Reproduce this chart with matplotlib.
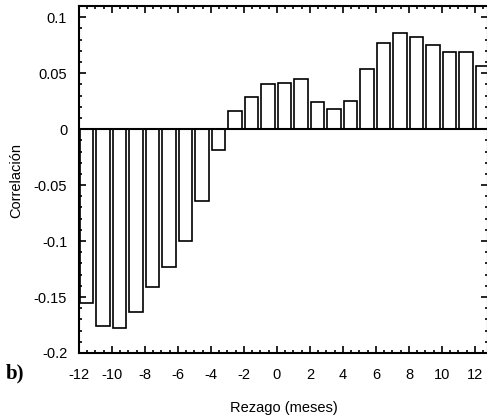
import matplotlib
matplotlib.use('Agg')
import matplotlib.pyplot as plt
from matplotlib.ticker import MultipleLocator

rezago = list(range(-12, 13))
correlacion = [-0.155, -0.176, -0.178, -0.163, -0.141, -0.123, -0.100, -0.064, -0.019,
               0.016, 0.029, 0.040, 0.041, 0.045, 0.024, 0.018, 0.025, 0.054,
               0.077, 0.086, 0.082, 0.075, 0.069, 0.069, 0.056]

plt.rcParams['font.family'] = ['Liberation Sans', 'DejaVu Sans']
plt.rcParams['axes.unicode_minus'] = False

fig = plt.figure(figsize=(4.87, 4.20), dpi=100)
ax = fig.add_axes([79 / 487, 67 / 420, 409 / 487, 347 / 420])

ax.bar([r + 0.05 for r in rezago], correlacion, width=0.82, align='edge',
       color='white', edgecolor='black', linewidth=1.2)
ax.axhline(0, color='black', linewidth=1.5, zorder=3)

ax.set_xlim(-12, 12.79)
ax.set_ylim(-0.2, 0.11)
ax.xaxis.set_major_locator(MultipleLocator(2))
ax.xaxis.set_minor_locator(MultipleLocator(0.5))
ax.yaxis.set_minor_locator(MultipleLocator(0.01))
ax.set_yticks([-0.2, -0.15, -0.1, -0.05, 0, 0.05, 0.1])
ax.set_yticklabels(['-0.2', '-0.15', '-0.1', '-0.05', '0', '0.05', '0.1'])
ax.tick_params(which='both', direction='in', top=True, right=True, labelsize=10.5, width=1.2)
ax.tick_params(which='major', length=5)
ax.tick_params(which='minor', length=2.5)
ax.tick_params(axis='x', pad=10.5)
ax.tick_params(axis='y', pad=8.5)
for s in ax.spines.values():
    s.set_linewidth(1.5)

fig.text(284 / 487, 1 - 408 / 420, 'Rezago (meses)', fontsize=10.5, ha='center', va='center')
fig.text(16 / 487, 1 - 180 / 420, 'Correlación', fontsize=10.5, rotation=90,
         ha='center', va='center')
fig.text(6 / 487, 1 - 373 / 420, 'b)', fontsize=15, fontweight='bold',
         family=['Liberation Serif', 'DejaVu Serif'], va='center')

fig.savefig('out.png', dpi=100)
